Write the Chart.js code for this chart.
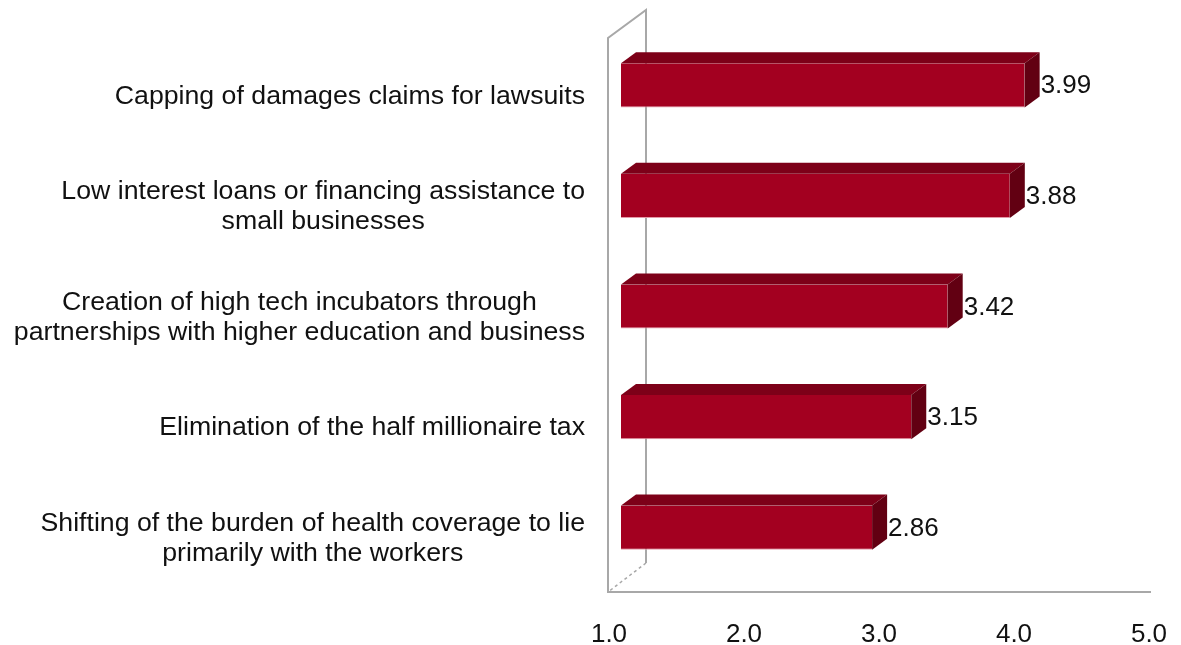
<!DOCTYPE html>
<html>
<head>
<meta charset="utf-8">
<script src="https://cdn.jsdelivr.net/npm/chart.js@4.4.1/dist/chart.umd.min.js"></script>
<style>
  html, body { margin: 0; padding: 0; background: #fff; }
  #wrap { width: 1181px; height: 645px; position: relative; }
</style>
</head>
<body>
<div id="wrap"><canvas id="bar-chart"></canvas></div>
<script>
const categories = [
  ["Capping of damages claims for lawsuits"],
  ["Low interest loans or financing assistance to", "small businesses"],
  ["Creation of high tech incubators through", "partnerships with higher education and business"],
  ["Elimination of the half millionaire tax"],
  ["Shifting of the burden of health coverage to lie", "primarily with the workers"],
];
const scores = [3.99, 3.88, 3.42, 3.15, 2.86];
const axisMin = 1;
const axisMax = 5;
const axisStep = 1;

const FONT = "'Liberation Sans', Arial, sans-serif";
const FRONT = "#a30020";
const TOP = "#7d0018";
const SIDE = "#620012";
const DEPTH_X = 15;
const DEPTH_Y = 11;

// fake 3D: walls behind, box faces and labels on top of the flat bars
const box3d = {
  id: "box3d",
  beforeDatasetsDraw(chart) {
    const { ctx, chartArea: a } = chart;
    const fx = a.left - 13, bx = a.left + 25;
    const floorY = a.bottom + 9;
    ctx.save();
    ctx.strokeStyle = "#a8a8a8";
    ctx.lineWidth = 2;
    ctx.beginPath();
    ctx.moveTo(a.right - 10, floorY);
    ctx.lineTo(fx, floorY);
    ctx.lineTo(fx, a.top + 8);
    ctx.lineTo(bx, a.top - 20);
    ctx.lineTo(bx, a.bottom - 20);
    ctx.stroke();
    ctx.setLineDash([3, 3]);
    ctx.lineWidth = 1.5;
    ctx.beginPath();
    ctx.moveTo(bx, a.bottom - 20);
    ctx.lineTo(fx, floorY);
    ctx.stroke();
    ctx.restore();
  },
  afterDatasetsDraw(chart) {
    const { ctx, chartArea: a } = chart;
    const meta = chart.getDatasetMeta(0);
    const x0 = chart.scales.x.getPixelForValue(axisMin);
    ctx.save();
    meta.data.forEach((bar, i) => {
      const top = bar.y - bar.height / 2;
      const bottom = bar.y + bar.height / 2;
      ctx.fillStyle = TOP;
      ctx.beginPath();
      ctx.moveTo(x0, top);
      ctx.lineTo(x0 + DEPTH_X, top - DEPTH_Y);
      ctx.lineTo(bar.x + DEPTH_X, top - DEPTH_Y);
      ctx.lineTo(bar.x, top);
      ctx.closePath();
      ctx.fill();
      ctx.fillStyle = SIDE;
      ctx.beginPath();
      ctx.moveTo(bar.x, top);
      ctx.lineTo(bar.x + DEPTH_X, top - DEPTH_Y);
      ctx.lineTo(bar.x + DEPTH_X, bottom - DEPTH_Y);
      ctx.lineTo(bar.x, bottom);
      ctx.closePath();
      ctx.fill();

      ctx.fillStyle = "#111";
      ctx.font = "26px " + FONT;
      ctx.textAlign = "left";
      ctx.textBaseline = "middle";
      ctx.fillText(scores[i].toFixed(2), bar.x + DEPTH_X + 1, bar.y + 1);
    });

    // category labels: block right-aligned, lines centred inside it
    const yScale = chart.scales.y;
    const rightEdge = a.left - 36;
    const lineH = 30;
    ctx.font = "26.7px " + FONT;
    ctx.fillStyle = "#111";
    ctx.textAlign = "center";
    ctx.textBaseline = "middle";
    categories.forEach((lines, i) => {
      const w = Math.max(...lines.map((l) => ctx.measureText(l).width));
      const cx = rightEdge - w / 2;
      const cy = yScale.getPixelForValue(i) + 11;
      lines.forEach((l, k) => {
        ctx.fillText(l, cx, cy + (k - (lines.length - 1) / 2) * lineH);
      });
    });
    ctx.restore();
  },
};

new Chart(document.getElementById("bar-chart"), {
  type: "bar",
  data: {
    labels: categories,
    datasets: [
      {
        data: scores,
        backgroundColor: FRONT,
        borderColor: "#e39aa8",
        borderWidth: { top: 0, right: 0, bottom: 1, left: 0 },
        borderSkipped: false,
        barPercentage: 0.5,
        categoryPercentage: 0.8,
      },
    ],
  },
  options: {
    indexAxis: "y",
    responsive: true,
    maintainAspectRatio: false,
    animation: false,
    layout: { padding: { left: 621, right: 20, top: 30, bottom: 0 } },
    plugins: {
      legend: { display: false },
      tooltip: { enabled: false },
    },
    scales: {
      x: {
        min: axisMin,
        max: axisMax,
        grid: { display: false, drawTicks: false },
        border: { display: false },
        ticks: {
          stepSize: axisStep,
          padding: 36,
          labelOffset: -12,
          color: "#111",
          font: { family: FONT, size: 26 },
          callback: (v) => Number(v).toFixed(1),
        },
        afterFit(scale) {
          scale.height = 62;
          scale.paddingLeft = 0;
          scale.paddingRight = 0;
        },
      },
      y: {
        display: false,
      },
    },
  },
  plugins: [box3d],
});
</script>
</body>
</html>
